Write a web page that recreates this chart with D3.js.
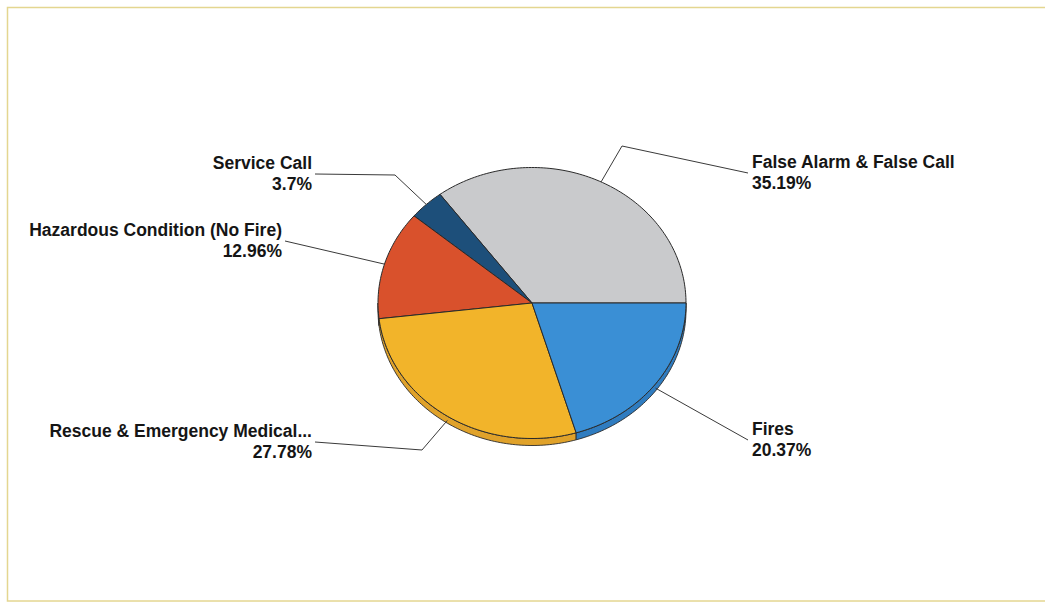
<!DOCTYPE html>
<html>
<head>
<meta charset="utf-8">
<script src="https://cdn.jsdelivr.net/npm/d3@7"></script>
<style>
  html, body { margin: 0; padding: 0; background: #ffffff; }
  svg { display: block; }
  text { font-family: "Liberation Sans", Arial, sans-serif; font-weight: bold; font-size: 17.5px; fill: #151515; }
</style>
</head>
<body>
<svg id="chart" width="1045" height="603"></svg>
<script>
// ---- data ----
const categories = [
  "False Alarm & False Call",
  "Service Call",
  "Hazardous Condition (No Fire)",
  "Rescue & Emergency Medical...",
  "Fires"
];
const percents = [35.19, 3.7, 12.96, 27.78, 20.37];
const percentLabels = ["35.19%", "3.7%", "12.96%", "27.78%", "20.37%"];

// ---- styles / layout ----
const topColors  = ["#c9cacc", "#1d4f7a", "#d9512c", "#f2b42a", "#3a8fd5"];
const sideColors = ["#a9aaac", "#163d60", "#b8432a", "#e0a22a", "#2f7cc0"];
// label anchor (x, y of leader end), text side, optional elbow
const labelLayout = [
  { x: 748, y: 173, anchor: "start", elbow: [622, 146] },
  { x: 315, y: 174, anchor: "end",   elbow: [395, 175] },
  { x: 285, y: 241, anchor: "end",   elbow: null },
  { x: 315, y: 442, anchor: "end",   elbow: [422, 450] },
  { x: 748, y: 440, anchor: "start", elbow: null }
];

const cx = 532, cy = 303, rx = 154, ry = 135.5, depth = 7;

const svg = d3.select("#chart");

// frame
svg.append("rect")
  .attr("x", 7.5).attr("y", 7.5).attr("width", 1050).attr("height", 593.5)
  .attr("fill", "none").attr("stroke", "#e4d690").attr("stroke-width", 1.5);

const data = categories.map((c, i) => ({ name: c, value: percents[i], pct: percentLabels[i], i }));

// math angles: start at 3 o'clock, counter-clockwise
const pie = d3.pie().sort(null).value(d => d.value).startAngle(0).endAngle(2 * Math.PI);
const arcs = pie(data);

const px = t => cx + rx * Math.cos(t);
const py = t => cy - ry * Math.sin(t);
const line = d3.line();

function arcPoints(t0, t1, dy) {
  const n = Math.max(4, Math.ceil(Math.abs(t1 - t0) / 0.02));
  return d3.range(n + 1).map(k => {
    const t = t0 + (t1 - t0) * k / n;
    return [px(t), py(t) + dy];
  });
}

// side walls (front half only: angles between PI and 2PI)
const sides = svg.append("g");
arcs.forEach(a => {
  const s = Math.max(a.startAngle, Math.PI);
  const e = Math.min(a.endAngle, 2 * Math.PI);
  if (e <= s) return;
  const pts = arcPoints(s, e, 0).concat(arcPoints(e, s, depth));
  sides.append("path")
    .attr("d", line(pts) + "Z")
    .attr("fill", sideColors[a.data.i])
    .attr("stroke", "#2a2a2a")
    .attr("stroke-width", 0.9)
    .attr("stroke-linejoin", "round");
});

// top faces
const tops = svg.append("g");
arcs.forEach(a => {
  const pts = [[cx, cy]].concat(arcPoints(a.startAngle, a.endAngle, 0));
  tops.append("path")
    .attr("d", line(pts) + "Z")
    .attr("fill", topColors[a.data.i])
    .attr("stroke", "#2a2a2a")
    .attr("stroke-width", 1)
    .attr("stroke-linejoin", "round");
});

// leader lines and labels
const labels = svg.append("g");
arcs.forEach(a => {
  const L = labelLayout[a.data.i];
  const mid = (a.startAngle + a.endAngle) / 2;
  const front = Math.sin(mid) < 0;
  const start = [px(mid), py(mid) + (front ? depth * 0.6 : 0)];
  const pts = [start];
  if (L.elbow) pts.push(L.elbow);
  pts.push([L.x, L.y]);
  labels.append("path")
    .attr("d", line(pts))
    .attr("fill", "none")
    .attr("stroke", "#3a3a3a")
    .attr("stroke-width", 1);

  const tx = L.anchor === "start" ? L.x + 4 : L.x - 3;
  const t = labels.append("text")
    .attr("text-anchor", L.anchor)
    .attr("x", tx);
  t.append("tspan").attr("x", tx).attr("y", L.y - 5).text(a.data.name);
  t.append("tspan").attr("x", tx).attr("y", L.y + 16).text(a.data.pct);
});
</script>
</body>
</html>
